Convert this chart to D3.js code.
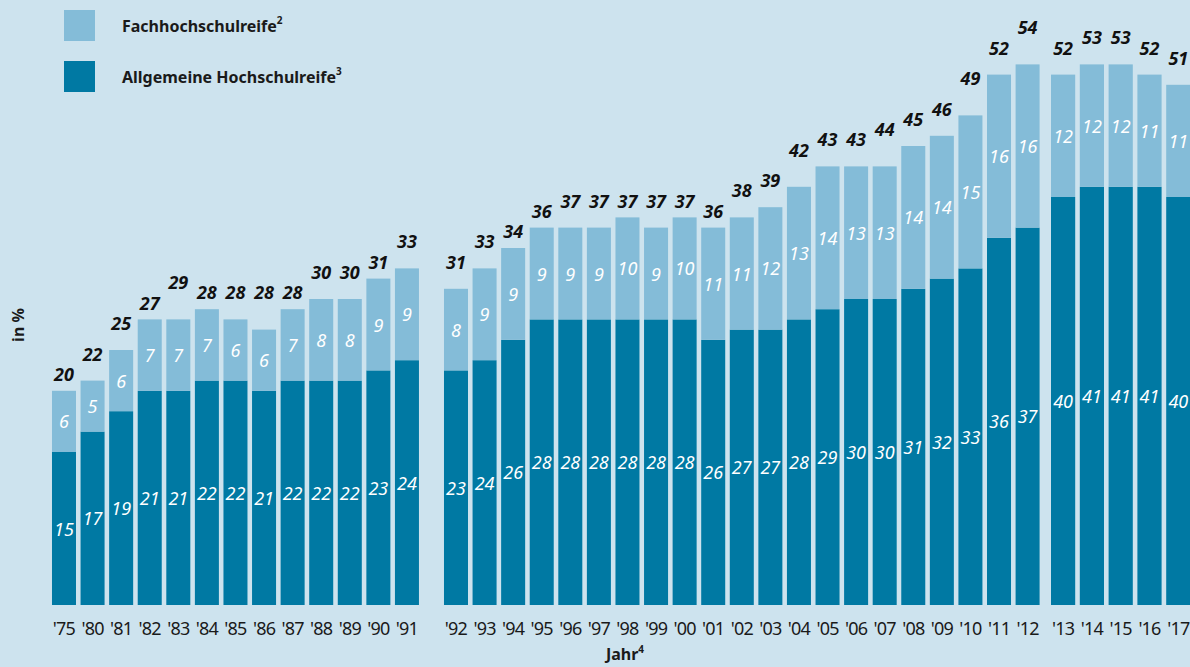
<!DOCTYPE html>
<html>
<head>
<meta charset="utf-8">
<script src="https://cdn.jsdelivr.net/npm/d3@7"></script>
<style>
  html, body { margin: 0; padding: 0; background: #cde3ee; }
  svg { display: block; font-family: "Noto Sans", "Open Sans", sans-serif; }
</style>
</head>
<body>
<div id="chart"></div>
<script>
// years, split in three blocks like the original
var years1 = ["'75", "'80", "'81", "'82", "'83", "'84", "'85", "'86", "'87", "'88", "'89", "'90", "'91"];
var years2 = ["'92", "'93", "'94", "'95", "'96", "'97", "'98", "'99", "'00", "'01", "'02",
              "'03", "'04", "'05", "'06", "'07", "'08", "'09", "'10", "'11", "'12"];
var years3 = ["'13", "'14", "'15", "'16", "'17"];

// Allgemeine Hochschulreife
var allgemein = [15, 17, 19, 21, 21, 22, 22, 21, 22, 22, 22, 23, 24,
                 23, 24, 26, 28, 28, 28, 28, 28, 28, 26, 27, 27, 28, 29, 30, 30, 31, 32, 33, 36, 37,
                 40, 41, 41, 41, 40];
// Fachhochschulreife
var fach = [6, 5, 6, 7, 7, 7, 6, 6, 7, 8, 8, 9, 9,
            8, 9, 9, 9, 9, 9, 10, 9, 10, 11, 11, 12, 13, 14, 13, 13, 14, 14, 15, 16, 16,
            12, 12, 12, 11, 11];
// totals as printed
var totals = [20, 22, 25, 27, 29, 28, 28, 28, 28, 30, 30, 31, 33,
              31, 33, 34, 36, 37, 37, 37, 37, 37, 36, 38, 39, 42, 43, 43, 44, 45, 46, 49, 52, 54,
              52, 53, 53, 52, 51];

var width = 1190, height = 667;
var baseY = 605;

var svg = d3.select('#chart')
  .append('svg')
  .attr('width', width)
  .attr('height', height);

var y = d3.scaleLinear().domain([0, 54]).range([baseY, baseY - 54 * 10.2]);

// one band scale per block
function band(years, x0, step) {
  return d3.scaleBand()
    .domain(years)
    .range([x0, x0 + years.length * step])
    .paddingInner(0.16)
    .paddingOuter(0.08);
}
var blocks = [
  band(years1, 49.7, 28.58),
  band(years2, 441.7, 28.58),
  band(years3, 1048.7, 28.8)
];

var allYears = years1.concat(years2, years3);
var data = allYears.map(function (yr, i) {
  var sc = i < years1.length ? blocks[0] : (i < years1.length + years2.length ? blocks[1] : blocks[2]);
  return { year: yr, x: sc(yr), w: sc.bandwidth(), a: allgemein[i], f: fach[i], t: totals[i] };
});

var colDark = '#0079a3', colLight = '#84bcd8';

var bars = svg.append('g');

bars.selectAll('rect.dark')
  .data(data)
  .enter()
  .append('rect')
  .attr('class', 'dark')
  .attr('x', function (d) { return d.x; })
  .attr('y', function (d) { return y(d.a); })
  .attr('width', function (d) { return d.w; })
  .attr('height', function (d) { return y(0) - y(d.a); })
  .attr('fill', colDark);

bars.selectAll('rect.light')
  .data(data)
  .enter()
  .append('rect')
  .attr('class', 'light')
  .attr('x', function (d) { return d.x; })
  .attr('y', function (d) { return y(d.a + d.f); })
  .attr('width', function (d) { return d.w; })
  .attr('height', function (d) { return y(d.a) - y(d.a + d.f); })
  .attr('fill', colLight);

// values inside the bars
var inLabel = function (sel) {
  sel.attr('text-anchor', 'middle')
    .attr('dominant-baseline', 'central')
    .attr('fill', '#fff')
    .attr('font-size', 18)
    .attr('font-style', 'italic');
};

svg.append('g').selectAll('text')
  .data(data)
  .enter()
  .append('text')
  .attr('x', function (d) { return d.x + d.w / 2; })
  .attr('y', function (d) { return (y(0) + y(d.a)) / 2; })
  .text(function (d) { return d.a; })
  .call(inLabel);

svg.append('g').selectAll('text')
  .data(data)
  .enter()
  .append('text')
  .attr('x', function (d) { return d.x + d.w / 2; })
  .attr('y', function (d) { return (y(d.a) + y(d.a + d.f)) / 2; })
  .text(function (d) { return d.f; })
  .call(inLabel);

// totals on top
svg.append('g').selectAll('text')
  .data(data)
  .enter()
  .append('text')
  .attr('x', function (d) { return d.x + d.w / 2; })
  .attr('y', function (d) { return y(d.t) - 20; })
  .attr('text-anchor', 'middle')
  .attr('font-size', 18)
  .attr('font-weight', 'bold')
  .attr('font-style', 'italic')
  .attr('fill', '#111')
  .text(function (d) { return d.t; });

// x axes, one per block
blocks.forEach(function (sc) {
  var ax = svg.append('g')
    .attr('transform', 'translate(0,' + (baseY + 11) + ')')
    .call(d3.axisBottom(sc).tickSize(0).tickPadding(6));
  ax.select('.domain').remove();
  ax.selectAll('text')
    .attr('font-size', 18)
    .attr('font-family', '"Noto Sans", sans-serif')
    .attr('letter-spacing', '-0.8')
    .attr('fill', '#1a1a1a');
});

// axis titles
svg.append('text')
  .attr('transform', 'translate(24,325) rotate(-90)')
  .attr('text-anchor', 'middle')
  .attr('font-size', 16)
  .attr('font-weight', 'bold')
  .attr('fill', '#1a1a1a')
  .text('in %');

var jahr = svg.append('text')
  .attr('x', 625)
  .attr('y', 660)
  .attr('text-anchor', 'middle')
  .attr('font-size', 16)
  .attr('font-weight', 'bold')
  .attr('fill', '#1a1a1a')
  .text('Jahr');
jahr.append('tspan').attr('font-size', 10).attr('dy', -7).text('4');

// legend
var legendItems = [
  { label: 'Fachhochschulreife', sup: '2', color: colLight },
  { label: 'Allgemeine Hochschulreife', sup: '3', color: colDark }
];
var legend = svg.append('g').selectAll('g')
  .data(legendItems)
  .enter()
  .append('g')
  .attr('transform', function (d, i) { return 'translate(64,' + (10 + i * 51) + ')'; });

legend.append('rect')
  .attr('width', 31)
  .attr('height', 31)
  .attr('fill', function (d) { return d.color; });

var lt = legend.append('text')
  .attr('x', 58)
  .attr('y', 16)
  .attr('dominant-baseline', 'central')
  .attr('font-size', 16)
  .attr('font-weight', 'bold')
  .attr('fill', '#1a1a1a')
  .text(function (d) { return d.label; });
lt.append('tspan')
  .attr('font-size', 10)
  .attr('dy', -6)
  .text(function (d) { return d.sup; });
</script>
</body>
</html>
